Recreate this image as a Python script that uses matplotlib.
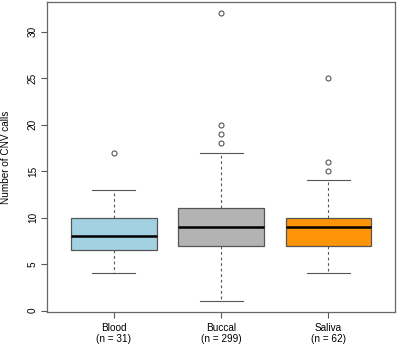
import matplotlib
matplotlib.use("Agg")
import matplotlib.pyplot as plt

plt.rcParams["font.family"] = ["Liberation Sans", "DejaVu Sans"]

GROUPS = ["Blood", "Buccal", "Saliva"]
COUNTS = [31, 299, 62]
WHISK_LO = [4, 1, 4]
Q1 = [6.5, 7, 7]
MEDIAN = [8, 9, 9]
Q3 = [10, 11, 10]
WHISK_HI = [13, 17, 14]
OUTLIERS = [[17], [18, 19, 20, 32], [15, 16, 25]]
COLORS = ["#a2d2e2", "#b3b3b3", "#ff9408"]
Y_TICKS = [0, 5, 10, 15, 20, 25, 30]

EDGE = "#555555"
FS = 7.2

stats = []
for i, g in enumerate(GROUPS):
    stats.append({
        "label": f"{g}\n(n = {COUNTS[i]})",
        "whislo": WHISK_LO[i], "q1": Q1[i], "med": MEDIAN[i],
        "q3": Q3[i], "whishi": WHISK_HI[i], "fliers": OUTLIERS[i],
    })

fig = plt.figure(figsize=(3.97, 3.47), dpi=100)
ax = fig.add_axes([0.119, 0.101, 0.876, 0.893])

bp = ax.bxp(
    stats, positions=[1, 2, 3], widths=0.8, patch_artist=True,
    boxprops=dict(edgecolor=EDGE, linewidth=0.9),
    medianprops=dict(color="black", linewidth=1.8),
    whiskerprops=dict(color=EDGE, linewidth=0.8, linestyle=(0, (2.5, 2.5))),
    capprops=dict(color=EDGE, linewidth=0.8),
    flierprops=dict(marker="o", markersize=3.6, markerfacecolor="none",
                    markeredgecolor=EDGE, markeredgewidth=0.8),
    capwidths=0.4,
)
for patch, c in zip(bp["boxes"], COLORS):
    patch.set_facecolor(c)

ax.set_xlim(0.38, 3.62)
ax.set_ylim(-0.15, 33.2)
ax.set_yticks(Y_TICKS)
ax.set_yticklabels([str(t) for t in Y_TICKS], rotation=90, va="center")
ax.tick_params(axis="both", labelsize=FS, color=EDGE, length=4.5, width=0.8)
ax.tick_params(axis="y", pad=2.3)
ax.tick_params(axis="x", pad=3.2)
for s in ax.spines.values():
    s.set_color("#666666")
    s.set_linewidth(0.9)
ax.set_ylabel("Number of CNV calls", fontsize=FS)
ax.yaxis.set_label_coords(-0.104, 0.5)

fig.savefig("out.png", dpi=100)
